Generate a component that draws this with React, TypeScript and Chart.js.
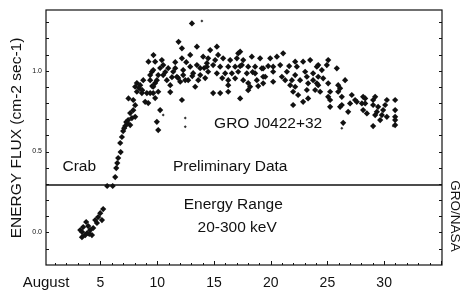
import { useEffect, useRef } from "react";
import { Chart, registerables } from "chart.js";
Chart.register(...registerables);

// August 1992 (day of month), energy flux (cm-2 sec-1)
const DAYS = [
  3.22, 3.37, 3.48, 3.66, 3.74, 3.83, 3.92, 4.10, 4.25, 4.36, 4.54, 4.69, 4.80, 4.98, 5.13, 5.24, 3.39, 4.01,
  5.59, 6.08,
  6.30, 6.39, 6.48, 6.56, 6.78, 6.74, 6.89, 7.00, 7.18, 7.27, 7.44, 7.62, 7.62, 7.77, 7.89, 8.06, 8.06, 7.89,
  7.47, 8.21, 8.06, 8.21, 8.50, 8.77, 8.65, 9.09, 8.94, 9.21, 9.23, 9.38, 9.53, 9.67, 9.82, 9.82, 9.65, 10.09,
  9.97, 10.09, 10.26,
  13.06, 11.88, 12.18, 13.50, 12.18, 10.41, 12.91, 14.05, 10.53, 10.97, 11.41, 12.29, 12.91, 13.50, 14.38,
  9.65, 10.53, 9.97, 10.85, 11.74, 12.29, 13.17, 13.79, 14.49, 11.15, 12.03, 12.73, 9.65, 13.35, 9.38, 9.82,
  12.18, 15.26, 17.31, 14.93, 15.55, 17.31, 11.59, 11.85, 12.56, 13.62, 14.14, 10.26, 11.30,
  14.67, 15.37, 17.14, 14.49, 15.11, 15.81, 16.43, 17.02, 17.58, 18.34, 19.07, 14.38, 14.93, 15.55, 16.26,
  16.87, 17.46, 18.02, 18.63, 19.22, 15.26, 15.99, 16.58, 17.14, 17.90, 18.63, 16.26, 16.87, 17.58, 18.02,
  18.78, 19.34, 16.26, 18.02, 18.19, 16.26,
  21.10, 20.55, 19.96, 22.16, 22.86, 23.48, 20.84, 22.31, 20.22, 19.34, 24.19, 20.22, 21.43, 23.04, 23.74,
  19.52, 20.99, 22.16, 23.19, 20.22, 21.28, 21.87, 23.74, 19.34, 21.72, 22.16, 23.30, 24.19, 21.98, 23.19,
  23.92, 22.42, 23.30, 22.86, 21.98, 25.07, 25.83, 26.56, 27.15, 27.44, 28.33, 30.24, 30.97, 29.03, 26.39,
  25.24, 26.12,
  24.95, 24.51, 24.07, 24.19, 24.63, 24.07, 25.07, 25.95, 24.36, 25.24, 25.95, 26.12, 25.07, 26.27, 28.15,
  25.24, 27.00, 27.59, 28.04, 26.27, 28.15, 29.03, 26.83,
  29.21, 29.03, 29.47, 30.09, 28.33, 29.36, 29.91, 30.97, 28.48, 29.21, 29.80, 30.24, 30.97, 29.65, 30.97,
  30.97,
  7.09, 7.36, 8.41, 8.68, 9.38, 9.56, 10.71, 11.59, 12.47, 13.09, 13.79, 14.23, 10.09, 11.15,
  15.73, 17.31, 18.41, 18.90, 19.78, 21.63, 22.59,
];
const FLUX = [
  0.014, -0.03, 0.033, -0.017, 0.064, -0.004, 0.039, 0.014, -0.017, 0.027, 0.076, 0.058, 0.095, 0.119, 0.076, 0.144, 0.002, -0.01,
  0.287, 0.287,
  0.342, 0.398, 0.429, 0.460, 0.497, 0.553, 0.590, 0.627, 0.658, 0.683, 0.695, 0.664, 0.738, 0.707, 0.756, 0.787, 0.715, 0.819,
  0.829, 0.870, 0.901, 0.924, 0.911, 0.942, 0.862, 0.862, 0.808, 0.800, 1.056, 0.973, 0.994, 1.097, 1.056, 0.924, 0.862, 0.870,
  0.684, 0.633, 0.757,
  1.293, 1.179, 1.139, 1.149, 1.077, 1.066, 1.098, 1.087, 1.035, 1.016, 0.994, 1.004, 1.025, 1.035, 1.047,
  1.004, 0.973, 0.942, 0.942, 0.963, 0.973, 0.985, 0.973, 0.994, 0.911, 0.932, 0.942, 0.901, 0.901, 0.862, 0.831,
  0.819, 1.149, 1.118, 0.862, 0.862, 0.829, 1.053, 0.955, 1.053, 0.942, 1.017, 1.017, 0.960,
  1.128, 1.098, 1.108, 1.077, 1.066, 1.077, 1.066, 1.077, 1.066, 1.087, 1.077, 1.025, 1.035, 1.025, 1.025,
  1.025, 1.035, 1.025, 1.025, 1.015, 0.984, 0.984, 0.984, 0.994, 0.984, 0.984, 0.942, 0.953, 0.942, 0.924,
  0.942, 0.963, 0.911, 0.880, 0.901, 0.870,
  1.108, 1.087, 1.077, 1.056, 1.056, 1.066, 1.035, 1.025, 1.025, 1.015, 1.035, 0.994, 0.994, 0.994, 0.984,
  0.963, 0.963, 0.973, 0.963, 0.932, 0.942, 0.942, 0.942, 0.922, 0.911, 0.901, 0.922, 0.911, 0.870, 0.881,
  0.881, 0.850, 0.829, 0.808, 0.788, 1.066, 1.015, 0.942, 0.850, 0.819, 0.829, 0.819, 0.819, 0.658, 0.678,
  0.777, 0.777,
  1.035, 1.004, 1.025, 0.963, 0.953, 0.922, 0.922, 0.911, 0.870, 0.870, 0.870, 0.891, 0.839, 0.839, 0.839,
  0.819, 0.798, 0.808, 0.798, 0.788, 0.757, 0.819, 0.746,
  0.839, 0.788, 0.777, 0.788, 0.798, 0.746, 0.757, 0.757, 0.736, 0.726, 0.726, 0.715, 0.715, 0.695, 0.695,
  0.664,
  0.645, 0.676, 0.893, 0.880, 0.942, 0.905, 0.992, 1.016, 0.942, 0.967, 1.016, 0.955, 0.973, 0.868,
  0.955, 1.029, 0.992, 0.905, 1.029, 1.029, 0.942,
];
// faint, small marks
const FAINT_DAYS = [13.94, 10.53, 12.47, 12.47, 26.27, 30.80];
const FAINT_FLUX = [1.308, 0.726, 0.707, 0.653, 0.644, 0.658];

const CRAB_LEVEL = 0.293;
const X_TICKS = [5, 10, 15, 20, 25, 30];
const Y_LABELS = [0.0, 0.5, 1.0];
const X_RANGE = [0.2, 35.1];
const Y_RANGE = [-0.202, 1.376];

const FONT = "'Liberation Sans', Arial, Helvetica, sans-serif";
const INK = "#111";

const LABELS = [
  { text: "GRO J0422+32", day: 19.78, flux: 0.67 },
  { text: "Crab", day: 3.13, flux: 0.404 },
  { text: "Preliminary Data", day: 16.43, flux: 0.404 },
  { text: "Energy Range", day: 16.7, flux: 0.169 },
  { text: "20-300 keV", day: 17.05, flux: 0.027 },
];

const decor = {
  id: "decor",
  afterDraw(chart: any) {
    const { ctx, chartArea: a, scales } = chart;
    const xs = scales.x, ys = scales.y;
    ctx.save();
    ctx.strokeStyle = INK;
    ctx.lineWidth = 1.2;
    ctx.strokeRect(a.left, a.top, a.right - a.left, a.bottom - a.top);
    ctx.lineWidth = 1;
    ctx.beginPath();
    for (let i = -1; i <= 13; i++) {
      const y = Math.round(ys.getPixelForValue(i / 10)) + 0.5;
      if (y < a.top || y > a.bottom) continue;
      ctx.moveTo(a.left, y); ctx.lineTo(a.left + 3, y);
      ctx.moveTo(a.right, y); ctx.lineTo(a.right - 3, y);
    }
    for (let d = 1; d <= 35; d++) {
      const x = Math.round(xs.getPixelForValue(d)) + 0.5;
      if (x < a.left || x > a.right) continue;
      const len = d % 5 === 0 ? 4 : 2;
      ctx.moveTo(x, a.bottom); ctx.lineTo(x, a.bottom - len);
    }
    ctx.stroke();

    ctx.fillStyle = INK;
    ctx.textAlign = "center";
    ctx.textBaseline = "middle";
    ctx.font = `15.5px ${FONT}`;
    for (const l of LABELS) {
      ctx.fillText(l.text, xs.getPixelForValue(l.day), ys.getPixelForValue(l.flux));
    }
    ctx.font = `15px ${FONT}`;
    ctx.fillText("August", 46, 283);

    ctx.save();
    ctx.translate(17, 138);
    ctx.rotate(-Math.PI / 2);
    ctx.font = `15.5px ${FONT}`;
    ctx.fillText("ENERGY FLUX (cm-2 sec-1)", 0, 0);
    ctx.restore();

    ctx.save();
    ctx.translate(455, 216);
    ctx.rotate(Math.PI / 2);
    ctx.font = `13.5px ${FONT}`;
    ctx.fillText("GRO/NASA", 0, 0);
    ctx.restore();
    ctx.restore();
  },
};

export default function App() {
  const ref = useRef<HTMLCanvasElement>(null);
  useEffect(() => {
    document.body.style.margin = "0";
    const main = DAYS.map((d, i) => ({ x: d, y: FLUX[i] }));
    const faint = FAINT_DAYS.map((d, i) => ({ x: d, y: FAINT_FLUX[i] }));
    const chart = new Chart(ref.current!, {
      type: "scatter",
      data: {
        datasets: [
          {
            data: main,
            pointStyle: "rectRot",
            pointRadius: 3.1,
            backgroundColor: INK,
            borderColor: INK,
            borderWidth: 0,
          },
          {
            data: faint,
            pointStyle: "rectRot",
            pointRadius: 1.5,
            backgroundColor: "#333",
            borderWidth: 0,
          },
          {
            type: "line",
            data: [
              { x: X_RANGE[0], y: CRAB_LEVEL },
              { x: X_RANGE[1], y: CRAB_LEVEL },
            ],
            borderColor: INK,
            borderWidth: 1.5,
            pointRadius: 0,
            showLine: true,
          } as any,
        ],
      },
      options: {
        animation: false,
        responsive: false,
        devicePixelRatio: 1,
        layout: { padding: { top: 10, left: 0, right: 0, bottom: 0 } },
        plugins: { legend: { display: false }, tooltip: { enabled: false } },
        scales: {
          x: {
            type: "linear",
            min: X_RANGE[0],
            max: X_RANGE[1],
            grid: { display: false, drawTicks: false },
            border: { display: false },
            afterBuildTicks: (s: any) => { s.ticks = X_TICKS.map((v) => ({ value: v })); },
            afterFit: (s: any) => { s.height = 26; },
            ticks: { color: INK, font: { family: FONT, size: 14 }, padding: 10, maxRotation: 0 },
          },
          y: {
            min: Y_RANGE[0],
            max: Y_RANGE[1],
            grid: { display: false, drawTicks: false },
            border: { display: false },
            afterBuildTicks: (s: any) => { s.ticks = Y_LABELS.map((v) => ({ value: v })); },
            afterFit: (s: any) => { s.width = 46; },
            ticks: { color: INK, font: { family: FONT, size: 7 }, padding: 4, callback: (v: any) => Number(v).toFixed(1) },
          },
          y2: {
            position: "right",
            min: Y_RANGE[0],
            max: Y_RANGE[1],
            grid: { display: false, drawTicks: false },
            border: { display: false },
            ticks: { display: false },
            afterFit: (s: any) => { s.width = 19; },
          },
        },
      },
      plugins: [decor],
    });
    return () => chart.destroy();
  }, []);
  return (
    <div style={{ position: "absolute", left: 0, top: 0, width: 461, height: 291, background: "#fff" }}>
      <canvas ref={ref} width={461} height={291} style={{ width: 461, height: 291 }} />
    </div>
  );
}
